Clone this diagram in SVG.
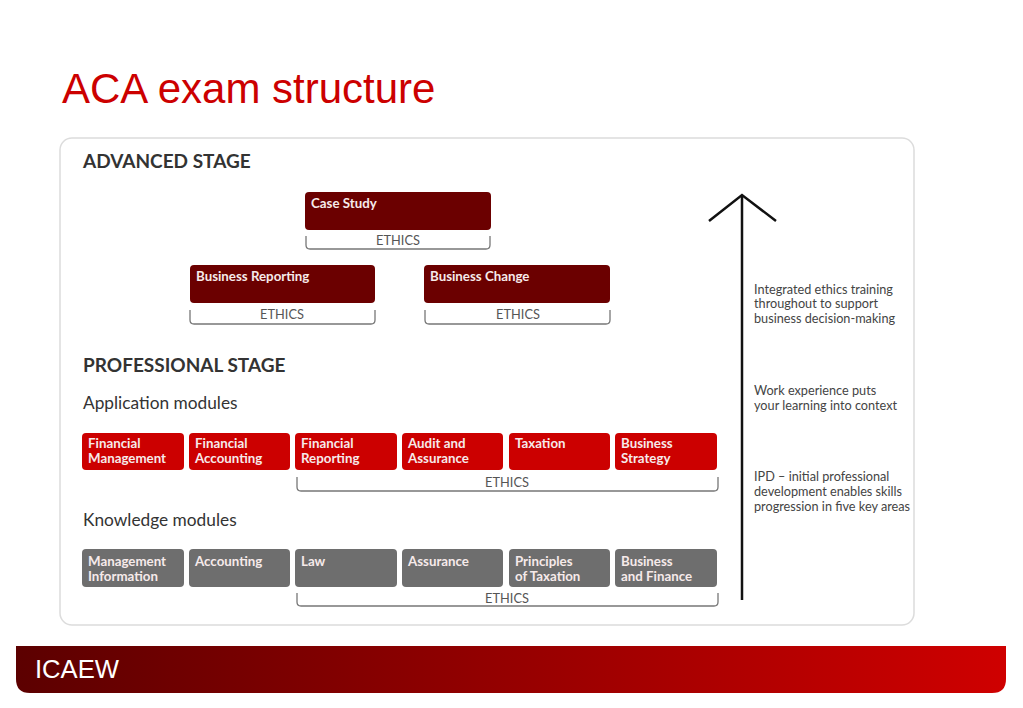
<svg xmlns="http://www.w3.org/2000/svg" width="1023" height="708" viewBox="0 0 1023 708">
<defs>
<linearGradient id="foot" x1="0" y1="0" x2="1" y2="0">
<stop offset="0" stop-color="#5c0000"/>
<stop offset="1" stop-color="#cf0000"/>
</linearGradient>
<style>
.title{font-family:"Liberation Sans",Arial,sans-serif;font-size:42px;fill:#cc0000}
.stage{font-family:Lato,"Open Sans",sans-serif;font-weight:bold;font-size:19px;fill:#333}
.sub{font-family:Lato,"Open Sans",sans-serif;font-size:17.3px;fill:#333}
.adv{fill:#6b0000}
.app{fill:#cc0000}
.kno{fill:#6e6e6e}
.lbl{font-family:Lato,"Open Sans",sans-serif;font-weight:bold;font-size:13.3px;fill:#f6eaea}
.eth{font-family:Lato,"Open Sans",sans-serif;font-size:12.8px;fill:#555}
.brk{fill:none;stroke:#777;stroke-width:1.3}
.note{font-family:Lato,"Open Sans",sans-serif;font-size:12.7px;fill:#444}
</style>
</defs>
<rect width="1023" height="708" fill="#fff"/>
<text class="title" x="62" y="103">ACA exam structure</text>
<rect x="60" y="138" width="854" height="487" rx="12" fill="#fff" stroke="#dcdcdc" stroke-width="1.5"/>

<text class="stage" x="83" y="168">ADVANCED STAGE</text>
<text class="stage" x="83" y="372">PROFESSIONAL STAGE</text>
<text class="sub" x="83" y="409">Application modules</text>
<text class="sub" x="83" y="526">Knowledge modules</text>

<g id="case-study">
<rect class="adv" x="305" y="192" width="186" height="38" rx="4"/>
<text class="lbl" x="311" y="208">Case Study</text>
</g>
<g id="business-reporting">
<rect class="adv" x="190" y="265" width="185" height="38" rx="4"/>
<text class="lbl" x="196" y="281">Business Reporting</text>
</g>
<g id="business-change">
<rect class="adv" x="424" y="265" width="186" height="38" rx="4"/>
<text class="lbl" x="430" y="281">Business Change</text>
</g>

<g id="fm"><rect class="app" x="82" y="433" width="102" height="37" rx="4"/><text class="lbl" x="88" y="448">Financial</text><text class="lbl" x="88" y="463">Management</text></g>
<g id="fa"><rect class="app" x="189" y="433" width="101" height="37" rx="4"/><text class="lbl" x="195" y="448">Financial</text><text class="lbl" x="195" y="463">Accounting</text></g>
<g id="fr"><rect class="app" x="295" y="433" width="102" height="37" rx="4"/><text class="lbl" x="301" y="448">Financial</text><text class="lbl" x="301" y="463">Reporting</text></g>
<g id="aa"><rect class="app" x="402" y="433" width="101" height="37" rx="4"/><text class="lbl" x="408" y="448">Audit and</text><text class="lbl" x="408" y="463">Assurance</text></g>
<g id="tax"><rect class="app" x="509" y="433" width="101" height="37" rx="4"/><text class="lbl" x="515" y="448">Taxation</text></g>
<g id="bs"><rect class="app" x="615" y="433" width="102" height="37" rx="4"/><text class="lbl" x="621" y="448">Business</text><text class="lbl" x="621" y="463">Strategy</text></g>

<g id="mi"><rect class="kno" x="82" y="549" width="102" height="38" rx="4"/><text class="lbl" x="88" y="566">Management</text><text class="lbl" x="88" y="581">Information</text></g>
<g id="acc"><rect class="kno" x="189" y="549" width="101" height="38" rx="4"/><text class="lbl" x="195" y="566">Accounting</text></g>
<g id="law"><rect class="kno" x="295" y="549" width="102" height="38" rx="4"/><text class="lbl" x="301" y="566">Law</text></g>
<g id="ass"><rect class="kno" x="402" y="549" width="101" height="38" rx="4"/><text class="lbl" x="408" y="566">Assurance</text></g>
<g id="pot"><rect class="kno" x="509" y="549" width="101" height="38" rx="4"/><text class="lbl" x="515" y="566">Principles</text><text class="lbl" x="515" y="581">of Taxation</text></g>
<g id="bf"><rect class="kno" x="615" y="549" width="102" height="38" rx="4"/><text class="lbl" x="621" y="566">Business</text><text class="lbl" x="621" y="581">and Finance</text></g>

<g id="ethics">
<path class="brk" d="M306,236 V245 Q306,249 310,249 H486 Q490,249 490,245 V236"/>
<text class="eth" x="398" y="245" text-anchor="middle">ETHICS</text>
<path class="brk" d="M190,310 V320 Q190,324 194,324 H371 Q375,324 375,320 V310"/>
<text class="eth" x="282" y="319" text-anchor="middle">ETHICS</text>
<path class="brk" d="M425,310 V320 Q425,324 429,324 H606 Q610,324 610,320 V310"/>
<text class="eth" x="518" y="319" text-anchor="middle">ETHICS</text>
<path class="brk" d="M297,477 V487 Q297,491 301,491 H714 Q718,491 718,487 V477"/>
<text class="eth" x="507" y="487" text-anchor="middle">ETHICS</text>
<path class="brk" d="M297,593 V602 Q297,606 301,606 H714 Q718,606 718,602 V593"/>
<text class="eth" x="507" y="603" text-anchor="middle">ETHICS</text>
</g>

<g id="connectors">
<line x1="742" y1="196" x2="742" y2="600" stroke="#111" stroke-width="2.5"/>
<polyline points="709,221 742,195 776,221" fill="none" stroke="#111" stroke-width="2.5"/>
</g>

<g id="notes">
<text class="note" x="754" y="294">Integrated ethics training</text>
<text class="note" x="754" y="308">throughout to support</text>
<text class="note" x="754" y="323">business decision-making</text>
<text class="note" x="754" y="395">Work experience puts</text>
<text class="note" x="754" y="410">your learning into context</text>
<text class="note" x="754" y="481">IPD – initial professional</text>
<text class="note" x="754" y="496">development enables skills</text>
<text class="note" x="754" y="511">progression in five key areas</text>
</g>

<path d="M16,646 H1006 V679 Q1006,693 992,693 H30 Q16,693 16,679 Z" fill="url(#foot)"/>
<text x="35" y="678" font-family="Liberation Sans,Arial,sans-serif" font-size="25" fill="#fff" textLength="84" lengthAdjust="spacingAndGlyphs">ICAEW</text>
</svg>
